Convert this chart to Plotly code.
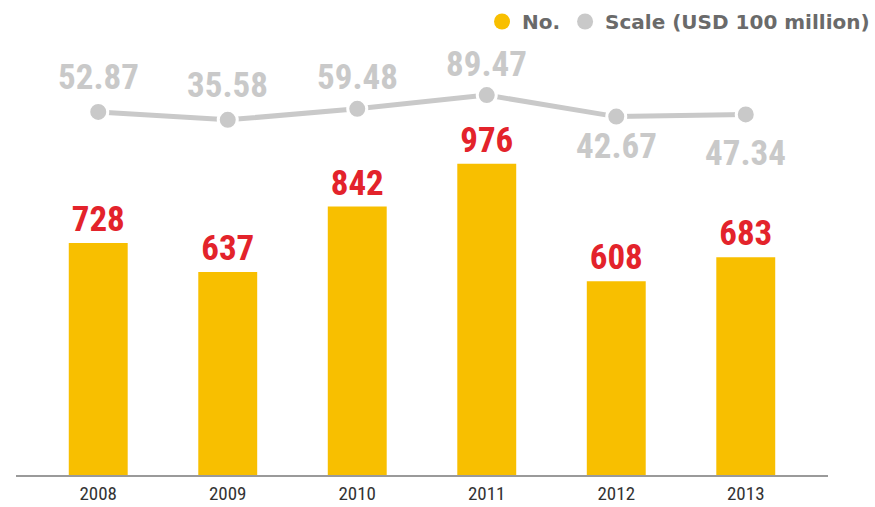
import plotly.graph_objects as go

years = ["2008", "2009", "2010", "2011", "2012", "2013"]
counts = [728, 637, 842, 976, 608, 683]
scale = [52.87, 35.58, 59.48, 89.47, 42.67, 47.34]
scale_labels = ["52.87", "35.58", "59.48", "89.47", "42.67", "47.34"]

# style: label placement relative to the points
label_anchor = ["bottom", "bottom", "bottom", "bottom", "top", "top"]
label_shift = [12, 12, 9, 8, -7, -17]

YELLOW = "#F8BF00"
RED = "#E3232B"
GREY = "#C9C9C9"
COND = "Roboto Condensed, Roboto, sans-serif"

fig = go.Figure()

fig.add_trace(go.Bar(
    x=years, y=counts, width=0.455,
    marker=dict(color=YELLOW, line=dict(width=0)),
    text=[str(c) for c in counts], textposition="outside",
    textfont=dict(family=COND, size=35, color=RED, weight="bold"),
    cliponaxis=False, showlegend=False, hoverinfo="skip",
))

fig.add_trace(go.Scatter(
    x=years, y=scale, yaxis="y2", mode="lines+markers",
    line=dict(color=GREY, width=5),
    marker=dict(color=GREY, size=19, line=dict(color="white", width=3)),
    showlegend=False, cliponaxis=False, hoverinfo="skip",
))

# legend entries
fig.add_trace(go.Scatter(x=[None], y=[None], mode="markers", name="No.",
                         marker=dict(color=YELLOW, size=22)))
fig.add_trace(go.Scatter(x=[None], y=[None], mode="markers", name="Scale (USD 100 million)",
                         marker=dict(color=GREY, size=22)))

for i, (v, lab, anc, sh) in enumerate(zip(scale, scale_labels, label_anchor, label_shift)):
    fig.add_annotation(x=i, y=v, xref="x", yref="y2", text=lab, showarrow=False,
                       yanchor=anc, yshift=sh,
                       font=dict(family=COND, size=35, color=GREY, weight="bold"))

fig.update_layout(
    width=875, height=507,
    margin=dict(l=16, r=47, t=0, b=32, autoexpand=False),
    paper_bgcolor="white", plot_bgcolor="white",
    xaxis=dict(type="category", range=[-0.635, 5.635], showline=True,
               linecolor="#9a9a9a", linewidth=2, ticks="", showgrid=False,
               tickfont=dict(family=COND, size=19, color="#333333"),
               ticklabelstandoff=0),
    yaxis=dict(range=[0, 1490], visible=False),
    yaxis2=dict(range=[-736, 296], overlaying="y", visible=False),
    legend=dict(orientation="h", x=1, xanchor="right", xref="container",
                y=0.996, yanchor="top", yref="container",
                font=dict(family="DejaVu Sans", size=20, color="#6a6a6a", weight="bold"),
                itemsizing="trace", bgcolor="rgba(0,0,0,0)", traceorder="normal"),
    showlegend=True,
)

fig.write_html("out.html")
